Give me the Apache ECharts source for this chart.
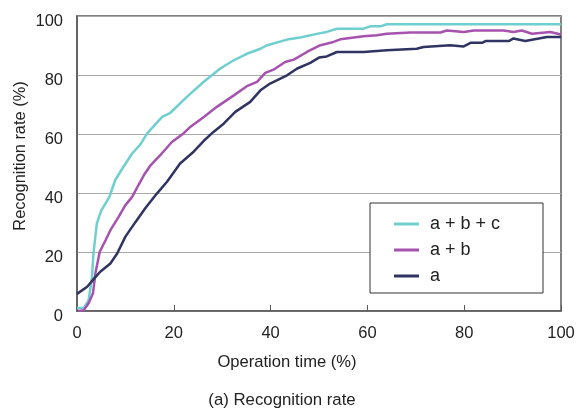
<!DOCTYPE html>
<html>
<head>
<meta charset="utf-8">
<script src="https://cdn.jsdelivr.net/npm/echarts@6/dist/echarts.min.js"></script>
<style>
  html, body { margin: 0; padding: 0; background: #fff; }
  #main { width: 582px; height: 412px; }
</style>
</head>
<body>
<div id="main"></div>
<script>
// 读图得到的数据 (x: operation time %, y: recognition rate %)
var abcData = [
    [0, 1], [1.4, 1], [2.4, 3.7], [3.1, 11.6], [3.4, 19.5], [4.1, 29.7], [5.0, 34],
    [6.7, 38.7], [7.9, 44.4], [9.6, 48.9], [11.4, 53.4], [13.1, 56.5], [14.5, 60.2],
    [17.6, 65.8], [19.3, 67.2], [22.7, 72.6], [26.2, 77.7], [29.6, 82.2], [32.4, 85],
    [35.1, 87.2], [37.9, 88.9], [39.3, 90.1], [43.4, 92], [46.1, 92.7], [50.3, 94.2],
    [51.6, 94.6], [53.7, 95.7], [59.2, 95.7], [60.6, 96.5], [62.7, 96.5], [64.0, 97.2],
    [100, 97.2]
];
var abData = [
    [0.3, 0], [1.4, 0.3], [2.4, 2.6], [3.3, 6], [3.8, 12.8], [4.7, 20.1], [5.9, 24],
    [6.9, 27.4], [8.6, 31.9], [10, 35.9], [11.4, 38.7], [12.7, 42.7], [13.8, 46],
    [15.2, 49.4], [17.2, 52.8], [19.6, 57.3], [22.0, 60.2], [23.4, 62.4], [26.2, 65.8],
    [28.9, 69.2], [32.4, 73.1], [35.1, 76.2], [37.2, 77.7], [38.9, 80.7], [40.6, 81.8],
    [43.0, 84.4], [44.8, 85.2], [47.5, 87.8], [50.3, 90.1], [53.0, 91.2], [54.4, 92.1],
    [59.2, 93.1], [62.0, 93.5], [64.0, 94.0], [68.9, 94.4], [75.1, 94.4], [76.4, 95.1],
    [79.9, 94.6], [82.0, 95.1], [88.1, 95.1], [90.2, 94.6], [91.9, 95.1], [94.0, 94.0],
    [97.8, 94.6], [100, 93.7]
];
var aData = [
    [0, 5.8], [2.1, 8.2], [3.4, 10.7], [4.8, 13.3], [6.9, 16.1], [8.3, 19.5], [10, 25.2],
    [12.1, 30.2], [14.1, 34.8], [16.5, 39.8], [18.6, 43.8], [21.3, 50], [24.1, 54],
    [26.2, 57.7], [28.2, 60.7], [30.3, 63.5], [32.7, 67.5], [35.8, 70.9], [37.9, 74.8],
    [39.9, 77.1], [43.4, 79.9], [45.5, 82.2], [48.2, 84.1], [50.0, 85.9], [51.6, 86.3],
    [53.7, 87.8], [59.2, 87.8], [64.0, 88.4], [70.2, 88.9], [71.6, 89.5], [77.1, 90.1],
    [79.9, 89.7], [81.3, 90.9], [83.7, 90.9], [84.4, 91.5], [89.2, 91.5], [90.2, 92.4],
    [92.6, 91.5], [97.1, 92.9], [100, 92.9]
];
var seriesNames = ['a + b + c', 'a + b', 'a'];
var seriesColors = ['#6fcfd0', '#a652ae', '#2f3462'];

var font = 'Liberation Sans, Arial, sans-serif';
var myChart = echarts.init(document.getElementById('main'));

var option = {
    animation: false,
    grid: {
        left: 77,
        right: 21,
        top: 16,
        bottom: 101,
        show: true,
        borderColor: '#5a5a5a',
        borderWidth: 1.5
    },
    legend: {
        orient: 'vertical',
        left: 394,
        top: 215,
        padding: 0,
        itemWidth: 25,
        itemHeight: 3,
        itemGap: 8,
        icon: 'rect',
        data: seriesNames,
        textStyle: {
            fontFamily: font,
            fontSize: 18,
            color: '#222',
            lineHeight: 18,
            padding: [0, 0, 0, 6]
        }
    },
    graphic: [
        {
            type: 'rect',
            shape: {x: 370, y: 203, width: 173, height: 90},
            style: {fill: '#fff', stroke: '#333', lineWidth: 1},
            z: 2
        },
        {
            type: 'text',
            x: 287,
            y: 362,
            style: {
                text: 'Operation time (%)',
                font: '16.6px ' + font,
                fill: '#222',
                align: 'center',
                verticalAlign: 'middle'
            }
        },
        {
            type: 'text',
            x: 282,
            y: 400,
            style: {
                text: '(a) Recognition rate',
                font: '16.8px ' + font,
                fill: '#222',
                align: 'center',
                verticalAlign: 'middle'
            }
        },
        {
            type: 'text',
            x: 20,
            y: 156,
            rotation: Math.PI / 2,
            style: {
                text: 'Recognition rate (%)',
                font: '16.4px ' + font,
                fill: '#222',
                align: 'center',
                verticalAlign: 'middle'
            }
        }
    ],
    xAxis: {
        type: 'value',
        min: 0,
        max: 100,
        interval: 20,
        axisLine: {lineStyle: {color: '#5a5a5a', width: 1.5}},
        axisTick: {inside: true, length: 6, lineStyle: {color: '#5a5a5a', width: 1}},
        axisLabel: {fontFamily: font, fontSize: 16.5, color: '#222', margin: 14},
        splitLine: {show: false}
    },
    yAxis: {
        type: 'value',
        min: 0,
        max: 100,
        interval: 20,
        axisLine: {show: true, lineStyle: {color: '#5a5a5a', width: 1.5}},
        axisTick: {show: false},
        axisLabel: {
            fontFamily: font, fontSize: 16.5, color: '#222', margin: 14,
            verticalAlign: 'top', lineHeight: 10
        },
        splitLine: {show: true, lineStyle: {color: '#aaaaaa', width: 1}}
    },
    series: [
        {
            name: seriesNames[0],
            type: 'line',
            data: abcData,
            showSymbol: false,
            color: seriesColors[0],
            lineStyle: {width: 2.5},
            z: 3
        },
        {
            name: seriesNames[1],
            type: 'line',
            data: abData,
            showSymbol: false,
            color: seriesColors[1],
            lineStyle: {width: 2.5},
            z: 4
        },
        {
            name: seriesNames[2],
            type: 'line',
            data: aData,
            showSymbol: false,
            color: seriesColors[2],
            lineStyle: {width: 2.5},
            z: 5
        }
    ]
};
myChart.setOption(option, true);
</script>
</body>
</html>
